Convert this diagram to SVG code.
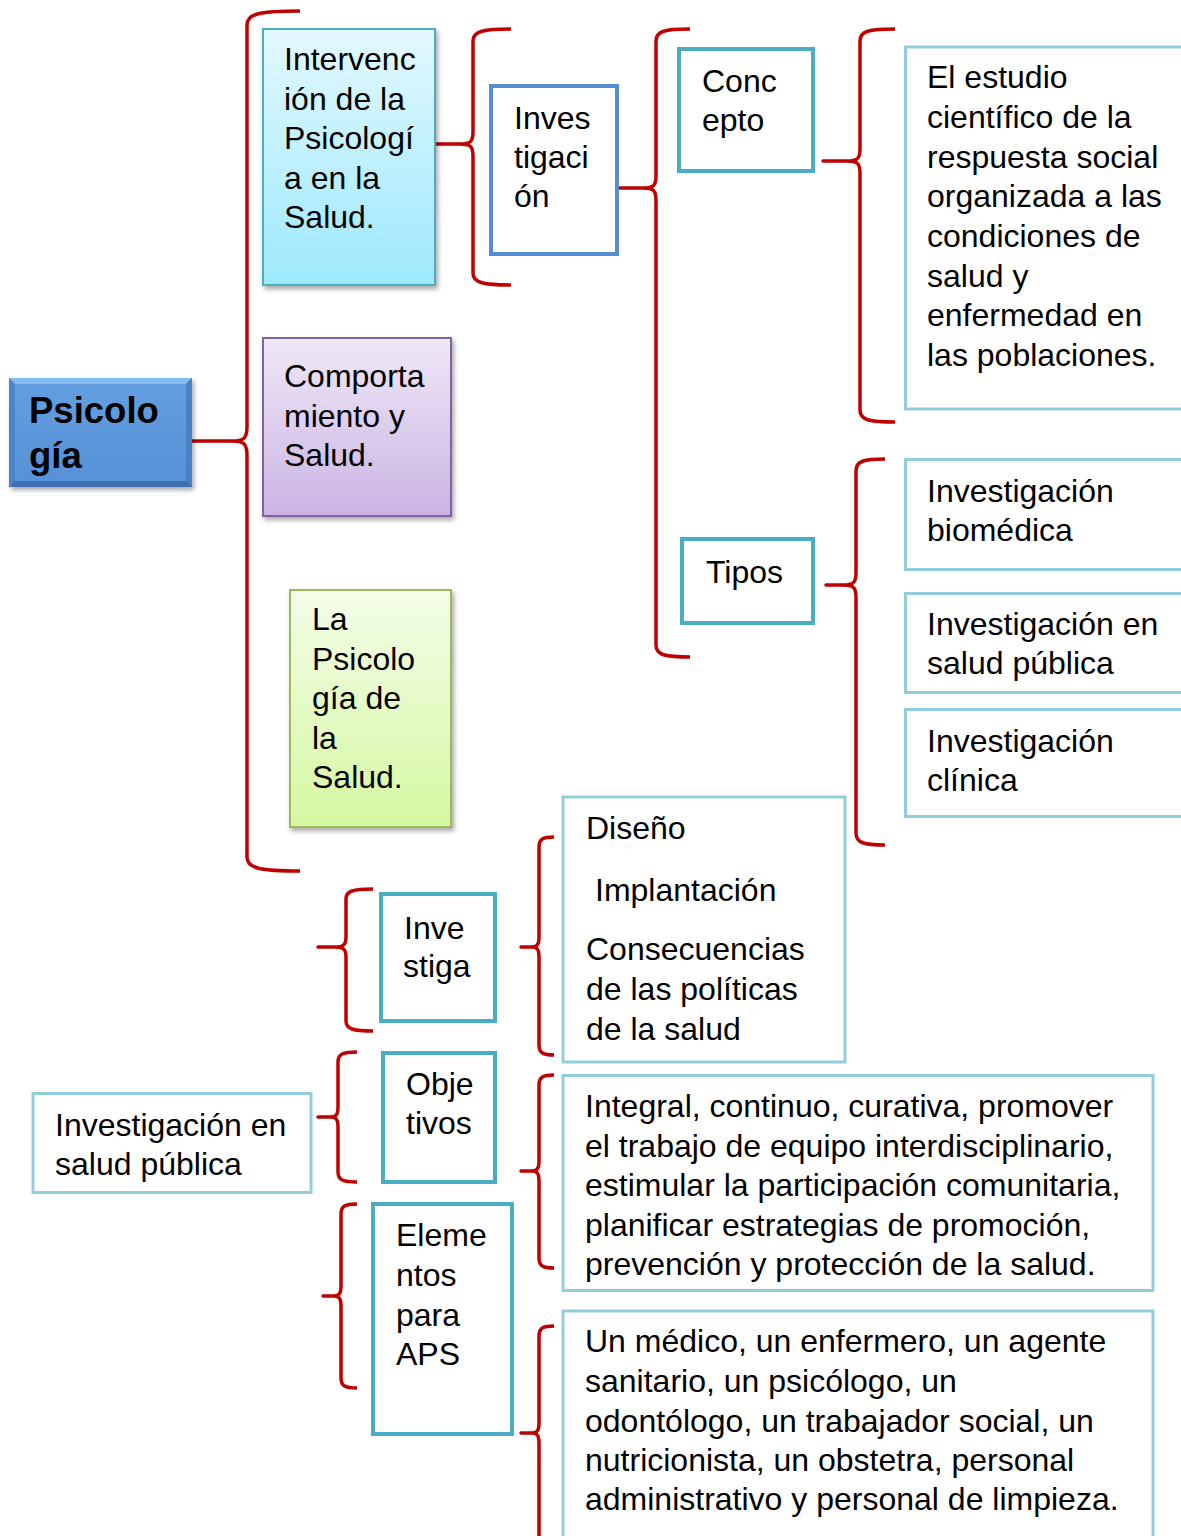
<svg xmlns="http://www.w3.org/2000/svg" width="1181" height="1536" viewBox="0 0 1181 1536">
<defs>
<linearGradient id="gCyan" x1="0" y1="0" x2="0" y2="1"><stop offset="0" stop-color="#e3f8fe"/><stop offset="1" stop-color="#9de9fd"/></linearGradient>
<linearGradient id="gPurple" x1="0" y1="0" x2="0" y2="1"><stop offset="0" stop-color="#efe8f7"/><stop offset="1" stop-color="#cab4e3"/></linearGradient>
<linearGradient id="gGreen" x1="0" y1="0" x2="0" y2="1"><stop offset="0" stop-color="#f4fde9"/><stop offset="1" stop-color="#d5f8a1"/></linearGradient>
<linearGradient id="gBlue" x1="0" y1="0" x2="0" y2="1"><stop offset="0" stop-color="#639fe0"/><stop offset="1" stop-color="#5790d6"/></linearGradient>
<filter id="sh" x="-10%" y="-10%" width="130%" height="130%"><feDropShadow dx="2" dy="3" stdDeviation="2.5" flood-color="#000" flood-opacity="0.35"/></filter>
<style>
text{font-family:"Liberation Sans",Arial,sans-serif;font-size:32px;fill:#000}
.b{font-weight:bold;font-size:36.5px}
.brace{fill:none;stroke:#c00000;stroke-width:3.5;stroke-linejoin:round}
.thick{fill:#fff;stroke:#4bacc6;stroke-width:4}
.thin{fill:#fff;stroke:#92cddc;stroke-width:3}
</style>
</defs>
<rect width="1181" height="1536" fill="#fff"/>

<g id="connectors">
<path class="brace" d="M300,11 C262,11 247,13 247,25 L247,427 C247,439 243,441 232,441 L192,441 L232,441 C243,441 247,443 247,455 L247,857 C247,869 262,871 300,871"/>
<path class="brace" d="M511,29 C484,29 473,31 473,41 L473,132 C473,142 470,144 460,144 L435,144 L460,144 C470,144 473,146 473,156 L473,273 C473,283 484,285 511,285"/>
<path class="brace" d="M690,29 C665,29 656,31 656,41 L656,176 C656,186 653,188 643,188 L618,188 L643,188 C653,188 656,190 656,200 L656,645 C656,655 665,657 690,657"/>
<path class="brace" d="M895,29 C869,29 860,31 860,41 L860,149 C860,159 857,161 847,161 L823,161 L847,161 C857,161 860,163 860,173 L860,410 C860,420 869,422 895,422"/>
<path class="brace" d="M885,459 C864,459 856,461 856,471 L856,573 C856,583 853,585 843,585 L826,585 L843,585 C853,585 856,587 856,597 L856,833 C856,843 864,845 885,845"/>
<path class="brace" d="M373,889 C353,889 346,891 346,899 L346,937 C346,945 343,947 335,947 L318,947 L335,947 C343,947 346,949 346,957 L346,1021 C346,1029 353,1031 373,1031"/>
<path class="brace" d="M357,1052 C343,1052 338,1054 338,1062 L338,1107 C338,1115 336,1117 330,1117 L318,1117 L330,1117 C336,1117 338,1119 338,1127 L338,1172 C338,1180 343,1182 357,1182"/>
<path class="brace" d="M357,1204 C345,1204 341,1206 341,1214 L341,1286 C341,1294 339,1296 333,1296 L323,1296 L333,1296 C339,1296 341,1298 341,1306 L341,1378 C341,1386 345,1388 357,1388"/>
<path class="brace" d="M554,837 C543,837 539,839 539,847 L539,937 C539,945 537,947 531,947 L521,947 L531,947 C537,947 539,949 539,957 L539,1045 C539,1053 543,1055 554,1055"/>
<path class="brace" d="M554,1075 C543,1075 539,1077 539,1085 L539,1161 C539,1169 537,1171 531,1171 L521,1171 L531,1171 C537,1171 539,1173 539,1181 L539,1258 C539,1266 543,1268 554,1268"/>
<path class="brace" d="M554,1326 C543,1326 539,1328 539,1336 L539,1423 C539,1431 537,1433 531,1433 L521,1433 L531,1433 C537,1433 539,1435 539,1443 L539,1560"/>
</g>

<g id="psicologia">
<rect x="9" y="378" width="183" height="109" fill="url(#gBlue)" filter="url(#sh)"/>
<polygon points="9,378 192,378 186,384 15,384" fill="#86bbef"/>
<polygon points="9,487 192,487 186,481 15,481" fill="#3f71b2"/>
<polygon points="9,378 15,384 15,481 9,487" fill="#4c84c9"/>
<polygon points="192,378 186,384 186,481 192,487" fill="#4a80c4"/>
<text class="b" x="29" y="423">Psicolo</text>
<text class="b" x="29" y="468">gía</text>
</g>

<g id="intervencion">
<rect x="263" y="29" width="172" height="256" fill="url(#gCyan)" stroke="#4bacc6" stroke-width="2" filter="url(#sh)"/>
<text x="284" y="70">Intervenc</text>
<text x="284" y="109.5">ión de la</text>
<text x="284" y="149">Psicologí</text>
<text x="284" y="188.5">a en la</text>
<text x="284" y="228">Salud.</text>
</g>

<g id="comportamiento">
<rect x="263" y="338" width="188" height="178" fill="url(#gPurple)" stroke="#8064a2" stroke-width="2" filter="url(#sh)"/>
<text x="284" y="387">Comporta</text>
<text x="284" y="426.5">miento y</text>
<text x="284" y="466">Salud.</text>
</g>

<g id="psicologia-salud">
<rect x="290" y="590" width="161" height="237" fill="url(#gGreen)" stroke="#9bbb59" stroke-width="2" filter="url(#sh)"/>
<text x="312" y="630">La</text>
<text x="312" y="669.5">Psicolo</text>
<text x="312" y="709">gía de</text>
<text x="312" y="748.5">la</text>
<text x="312" y="788">Salud.</text>
</g>

<g id="investigacion">
<rect x="491" y="86" width="126" height="168" fill="#fff" stroke="#558ed5" stroke-width="4"/>
<text x="514" y="128.5">Inves</text>
<text x="514" y="167.5">tigaci</text>
<text x="514" y="207">ón</text>
</g>

<g id="concepto">
<rect class="thick" x="679" y="49" width="134" height="122"/>
<text x="702" y="92">Conc</text>
<text x="702" y="131">epto</text>
</g>

<g id="definicion">
<rect class="thin" x="905.5" y="47" width="290" height="362"/>
<text x="927" y="88">El estudio</text>
<text x="927" y="128">científico de la</text>
<text x="927" y="167.5">respuesta social</text>
<text x="927" y="207">organizada a las</text>
<text x="927" y="246.5">condiciones de</text>
<text x="927" y="286.5">salud y</text>
<text x="927" y="326">enfermedad en</text>
<text x="927" y="366">las poblaciones.</text>
</g>

<g id="tipos">
<rect class="thick" x="682" y="539" width="131" height="84"/>
<text x="706" y="583">Tipos</text>
</g>

<g id="biomedica">
<rect class="thin" x="905.5" y="459.5" width="290" height="110"/>
<text x="927" y="501.5">Investigación</text>
<text x="927" y="540.5">biomédica</text>
</g>

<g id="salud-publica-tipo">
<rect class="thin" x="905.5" y="593.5" width="290" height="99"/>
<text x="927" y="635">Investigación en</text>
<text x="927" y="674">salud pública</text>
</g>

<g id="clinica">
<rect class="thin" x="905.5" y="709.5" width="290" height="107"/>
<text x="927" y="751.5">Investigación</text>
<text x="927" y="790.5">clínica</text>
</g>

<g id="diseno">
<rect class="thin" x="563" y="797" width="282" height="265"/>
<text x="586" y="839">Diseño</text>
<text x="595" y="900.5">Implantación</text>
<text x="586" y="960">Consecuencias</text>
<text x="586" y="1000">de las políticas</text>
<text x="586" y="1039.5">de la salud</text>
</g>

<g id="investiga">
<rect class="thick" x="381" y="894" width="114" height="127"/>
<text x="404" y="939">Inve</text>
<text x="403" y="977">stiga</text>
</g>

<g id="objetivos">
<rect class="thick" x="383" y="1053" width="112" height="129"/>
<text x="406" y="1095">Obje</text>
<text x="406" y="1134">tivos</text>
</g>

<g id="elementos">
<rect class="thick" x="373" y="1204" width="139" height="230"/>
<text x="396" y="1246">Eleme</text>
<text x="396" y="1286">ntos</text>
<text x="396" y="1325.5">para</text>
<text x="396" y="1364.5">APS</text>
</g>

<g id="salud-publica">
<rect class="thin" x="33" y="1093.5" width="278" height="99"/>
<text x="55" y="1136">Investigación en</text>
<text x="55" y="1175">salud pública</text>
</g>

<g id="objetivos-texto">
<rect class="thin" x="563" y="1075.5" width="590" height="215"/>
<text x="585" y="1117">Integral, continuo, curativa, promover</text>
<text x="585" y="1156.5">el trabajo de equipo interdisciplinario,</text>
<text x="585" y="1196">estimular la participación comunitaria,</text>
<text x="585" y="1235.5">planificar estrategias de promoción,</text>
<text x="585" y="1275">prevención y protección de la salud.</text>
</g>

<g id="elementos-texto">
<rect class="thin" x="563" y="1311" width="590" height="260"/>
<text x="585" y="1352">Un médico, un enfermero, un agente</text>
<text x="585" y="1392">sanitario, un psicólogo, un</text>
<text x="585" y="1431.5">odontólogo, un trabajador social, un</text>
<text x="585" y="1471">nutricionista, un obstetra, personal</text>
<text x="585" y="1510">administrativo y personal de limpieza.</text>
</g>
</svg>
